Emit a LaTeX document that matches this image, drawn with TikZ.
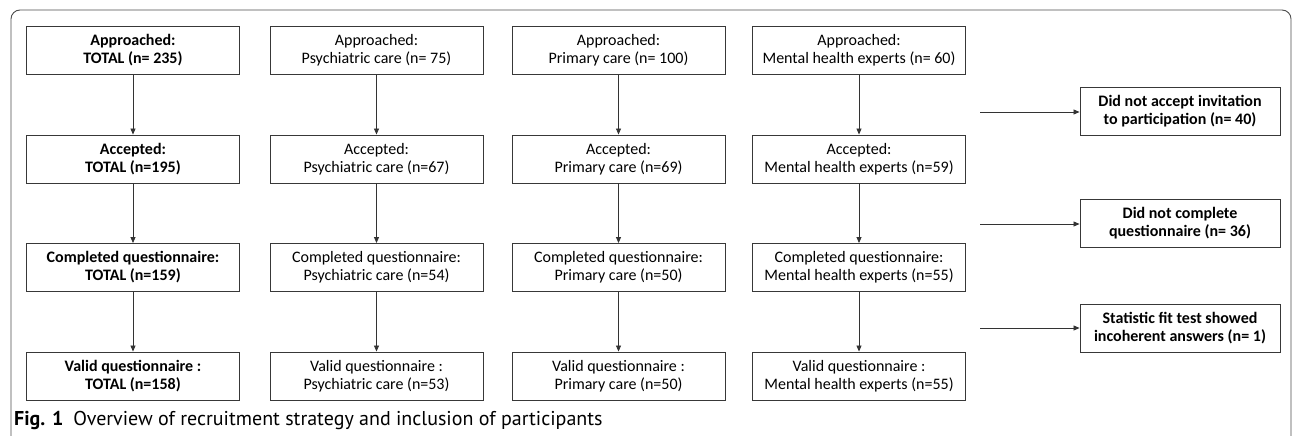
\documentclass[tikz,border=0pt]{standalone}
\usepackage{fontspec}
\setmainfont{Carlito}
\newfontfamily\capfont{PT Sans}
\usetikzlibrary{arrows.meta}

\begin{document}
\begin{tikzpicture}[x=1pt, y=-1pt,
  stage/.style={draw=black!78, line width=0.9pt, align=center, inner sep=0pt,
    minimum width=213pt, minimum height=48pt, font=\fontsize{16}{18}\selectfont},
  total/.style={stage, font=\fontsize{16}{18}\selectfont\bfseries},
  loss/.style={stage, minimum width=200pt, font=\fontsize{16}{18}\selectfont\bfseries},
  flow/.style={draw=black!80, line width=0.8pt, -{Triangle[length=6pt,width=5pt]}}]
\useasboundingbox (0,0) rectangle (1292,436);

% outer frame, open at the bottom
\draw[black!70, line width=0.9pt, rounded corners=9pt] (11,440) -- (11,10) -- (1291,10) -- (1291,440);

% column 1: total
\node[total] (tot1) at (133,50.5) {Approached:\\TOTAL (n= 235)};
\node[total] (tot2) at (133,159) {Accepted:\\TOTAL (n=195)};
\node[total] (tot3) at (133,267.5) {Completed questionnaire:\\TOTAL (n=159)};
\node[total] (tot4) at (133,376) {Valid questionnaire :\\TOTAL (n=158)};

% column 2: psychiatric care
\node[stage] (psy1) at (376.5,50.5) {Approached:\\Psychiatric care (n= 75)};
\node[stage] (psy2) at (376.5,159) {Accepted:\\Psychiatric care (n=67)};
\node[stage] (psy3) at (376.5,267.5) {Completed questionnaire:\\Psychiatric care (n=54)};
\node[stage] (psy4) at (376.5,376) {Valid questionnaire :\\Psychiatric care (n=53)};

% column 3: primary care
\node[stage] (pri1) at (618.5,50.5) {Approached:\\Primary care (n= 100)};
\node[stage] (pri2) at (618.5,159) {Accepted:\\Primary care (n=69)};
\node[stage] (pri3) at (618.5,267.5) {Completed questionnaire:\\Primary care (n=50)};
\node[stage] (pri4) at (618.5,376) {Valid questionnaire :\\Primary care (n=50)};

% column 4: mental health experts
\node[stage] (mhe1) at (859,50.5) {Approached:\\Mental health experts (n= 60)};
\node[stage] (mhe2) at (859,159) {Accepted:\\Mental health experts (n=59)};
\node[stage] (mhe3) at (859,267.5) {Completed questionnaire:\\Mental health experts (n=55)};
\node[stage] (mhe4) at (859,376) {Valid questionnaire :\\Mental health experts (n=55)};

% drop-outs
\node[loss] (lossa) at (1180,111) {Did not accept invitation\\to participation (n= 40)};
\node[loss] (lossb) at (1180,223.5) {Did not complete\\questionnaire (n= 36)};
\node[loss] (lossc) at (1180,328) {Statistic fit test showed\\incoherent answers (n= 1)};

\coordinate (ina) at (980,112);
\coordinate (inb) at (980,224);
\coordinate (inc) at (980,328);

\draw[flow] (tot1) -- (tot2);
\draw[flow] (tot2) -- (tot3);
\draw[flow] (tot3) -- (tot4);
\draw[flow] (psy1) -- (psy2);
\draw[flow] (psy2) -- (psy3);
\draw[flow] (psy3) -- (psy4);
\draw[flow] (pri1) -- (pri2);
\draw[flow] (pri2) -- (pri3);
\draw[flow] (pri3) -- (pri4);
\draw[flow] (mhe1) -- (mhe2);
\draw[flow] (mhe2) -- (mhe3);
\draw[flow] (mhe3) -- (mhe4);
\draw[flow] (ina) -- (ina -| lossa.west);
\draw[flow] (inb) -- (inb -| lossb.west);
\draw[flow] (inc) -- (inc -| lossc.west);

% caption
\node[anchor=base west, inner sep=0pt, font=\capfont\fontsize{20}{24}\selectfont] (cap) at (14,425)
  {\textbf{Fig. 1}\hspace{0.5em}Overview of recruitment strategy and inclusion of participants};
\end{tikzpicture}
\end{document}
